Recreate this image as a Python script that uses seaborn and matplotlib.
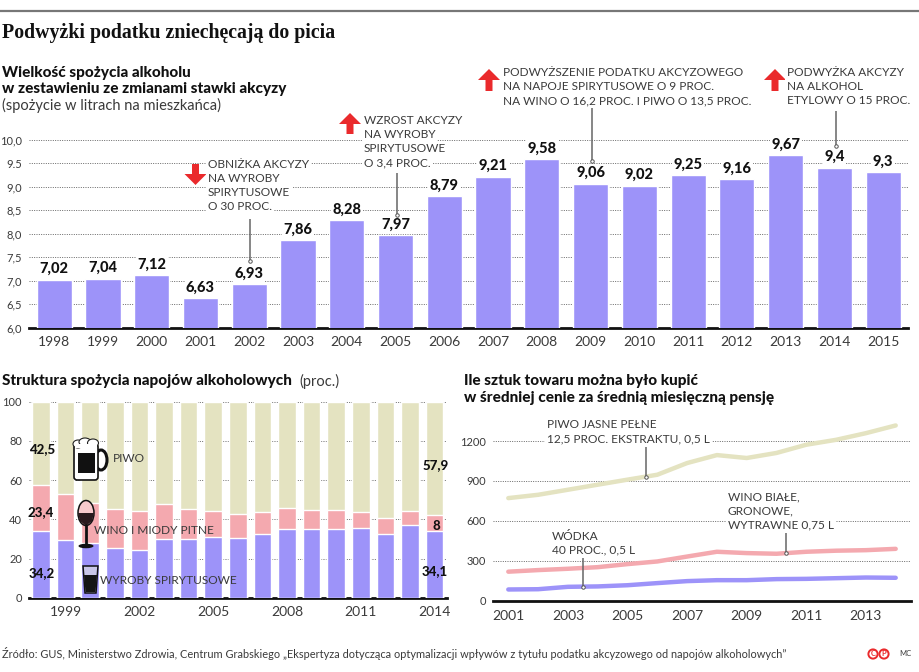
import matplotlib
matplotlib.use("Agg")
import matplotlib.pyplot as plt
from matplotlib.patches import Polygon, Rectangle, Ellipse, FancyBboxPatch, Circle
import pandas as pd
import seaborn as sns

W, H = 920, 672

# spozycie w litrach
years_top = [1998, 1999, 2000, 2001, 2002, 2003, 2004, 2005, 2006, 2007, 2008, 2009, 2010, 2011, 2012, 2013, 2014, 2015]
litres = [7.02, 7.04, 7.12, 6.63, 6.93, 7.86, 8.28, 7.97, 8.79, 9.21, 9.58, 9.06, 9.02, 9.25, 9.16, 9.67, 9.4, 9.3]
litres_labels = ["7,02", "7,04", "7,12", "6,63", "6,93", "7,86", "8,28", "7,97", "8,79", "9,21", "9,58", "9,06", "9,02", "9,25", "9,16", "9,67", "9,4", "9,3"]

# struktura spozycia
years_mix = list(range(1998, 2015))
spirits = [34.2, 29.4, 28.2, 25.7, 24.4, 30.2, 30.0, 31.2, 30.6, 32.4, 35.3, 35.3, 35.3, 35.5, 32.7, 37.2, 34.1]
wine = [23.4, 23.5, 20.1, 19.4, 19.8, 17.6, 15.5, 13.1, 12.4, 11.6, 10.4, 9.4, 9.5, 8.5, 7.8, 7.2, 8.0]
beer = [42.5, 47.1, 51.7, 54.9, 55.8, 52.2, 54.5, 55.7, 57.0, 56.0, 54.3, 55.3, 55.2, 56.0, 59.5, 55.6, 57.9]
mix_ticks = [1999, 2002, 2005, 2008, 2011, 2014]

# ile sztuk za pensje
years_line = list(range(2001, 2015))
beer_units = [771, 796, 834, 872, 910, 947, 1035, 1095, 1073, 1111, 1173, 1210, 1260, 1318]
wine_units = [217, 229, 239, 251, 274, 294, 331, 367, 357, 352, 367, 375, 379, 389]
vodka_units = [83, 85, 103, 106, 115, 131, 146, 153, 153, 161, 163, 168, 173, 171]

PURPLE = "#9d93f9"
KHAKI = "#e4e3c1"
PINK = "#f4a9af"
RED = "#ea2a2c"
TEXT = "#3a3a3a"
DOTS = (0, (1, 1.4))

sns.set_theme(style="white")
plt.rcParams["font.family"] = ["Lato", "DejaVu Sans"]


def px_axes(fig, left, top, right, bottom):
    return fig.add_axes([left / W, 1 - bottom / H, (right - left) / W, (bottom - top) / H])


def style_axis(ax, ticks, labels):
    sns.despine(ax=ax, left=True, top=True, right=True)
    ax.spines["bottom"].set_color("#111111")
    ax.spines["bottom"].set_linewidth(2.0)
    ax.spines["bottom"].set_zorder(0.5)
    ax.set_yticks(ticks)
    ax.set_yticklabels(labels)
    ax.yaxis.grid(True, color="#666666", lw=0.7, ls=DOTS)
    ax.xaxis.grid(False)
    ax.set_axisbelow(True)
    ax.set_xlabel("")
    ax.set_ylabel("")
    ax.tick_params(axis="y", length=0, labelsize=8, labelcolor=TEXT, pad=5)
    ax.tick_params(axis="x", length=0, labelsize=10, labelcolor=TEXT, pad=6)


def arrow(ax, cx, top, bottom, up=True):
    head = 11
    hw, sw = 11, 3.5
    if up:
        pts = [(cx, top), (cx + hw, top + head), (cx + sw, top + head), (cx + sw, bottom), (cx - sw, bottom), (cx - sw, top + head), (cx - hw, top + head)]
    else:
        pts = [(cx, bottom), (cx + hw, bottom - head), (cx + sw, bottom - head), (cx + sw, top), (cx - sw, top), (cx - sw, bottom - head), (cx - hw, bottom - head)]
    ax.add_patch(Polygon(pts, closed=True, fc=RED, ec="none"))


def note(ax, x, y, lines, step=14):
    for i, line in enumerate(lines):
        ax.text(x, y + i * step, line, fontsize=8.6, color=TEXT, va="center", ha="left",
                bbox=dict(fc="white", ec="none", pad=1.2))


def leader(ax, x, y0, y1):
    ax.plot([x, x], [y0, y1], color="#666666", lw=1.1, solid_capstyle="butt")
    ax.plot([x], [y1], marker="o", ms=2.5, mfc="white", mec="#555555", mew=0.7)


def draw_mug(ax):
    ax.add_patch(Ellipse((101, 460), 12, 20, fc="none", ec="#111111", lw=2.2))
    ax.add_patch(FancyBboxPatch((74, 444), 24, 36, boxstyle="round,pad=0,rounding_size=3", fc="white", ec="#111111", lw=1.2))
    ax.add_patch(Rectangle((78, 453), 17, 20, fc="#111111", ec="none"))
    for cx, cy, w in [(78, 444, 10), (85, 442, 12), (93, 443, 11)]:
        ax.add_patch(Ellipse((cx, cy), w, 8, fc="white", ec="#222222", lw=0.8))
    ax.add_patch(Rectangle((75, 444), 22, 4, fc="white", ec="none"))


def draw_glass(ax):
    ax.add_patch(Ellipse((86, 513), 16, 25, fc="#f7c9cc", ec="#111111", lw=1.1))
    ax.add_patch(Polygon([(78, 513), (94, 513), (92, 521), (86, 526), (80, 521)], closed=True, fc="#2a1a1e", ec="none"))
    ax.plot([86, 86], [525, 545], color="#111111", lw=2)
    ax.add_patch(Ellipse((86, 546), 15, 4.5, fc="#111111", ec="none"))


def draw_shot(ax):
    ax.add_patch(Polygon([(83, 566), (98, 566), (96, 593), (85, 593)], closed=True, fc="#c9c6e8", ec="#111111", lw=1.1))
    ax.add_patch(Polygon([(84, 575), (97, 575), (95.5, 592), (85.5, 592)], closed=True, fc="#151515", ec="none"))


fig = plt.figure(figsize=(W / 100, H / 100), dpi=100, facecolor="white")

# gorny wykres slupkowy
x0, step = 54.2, 48.76
ax_top = px_axes(fig, 29, 120, 908, 327.5)
df_top = pd.DataFrame({"year": years_top, "litres": litres})
sns.barplot(data=df_top, x="year", y="litres", color=PURPLE, saturation=1, width=0.72, ax=ax_top)
ax_top.set_xlim((29 - x0) / step, (908 - x0) / step)
ax_top.set_ylim(6, 6 + (327.5 - 120) / 47)
style_axis(ax_top, [6, 6.5, 7, 7.5, 8, 8.5, 9, 9.5, 10], ["6,0", "6,5", "7,0", "7,5", "8,0", "8,5", "9,0", "9.5", "10,0"])
ax_top.bar_label(ax_top.containers[0], labels=litres_labels, padding=2.5, fontsize=10.5, fontweight="black",
                 color="#111111", bbox=dict(fc="white", ec="none", pad=1))

# struktura - slupki skumulowane
x0, step = 41, 24.6
ax_mix = px_axes(fig, 29, 401.7, 447, 598)
wine_top = [s + w for s, w in zip(spirits, wine)]
totals = [t + b for t, b in zip(wine_top, beer)]
df_mix = pd.DataFrame({"year": years_mix, "spirits": spirits, "wine_top": wine_top, "total": totals})
sns.barplot(data=df_mix, x="year", y="total", color=KHAKI, saturation=1, width=0.72, ax=ax_mix)
sns.barplot(data=df_mix, x="year", y="wine_top", color=PINK, saturation=1, width=0.72, ax=ax_mix)
sns.barplot(data=df_mix, x="year", y="spirits", color=PURPLE, saturation=1, width=0.72, ax=ax_mix)
ax_mix.set_xlim((29 - x0) / step, (447 - x0) / step)
ax_mix.set_ylim(0, 100)
style_axis(ax_mix, [0, 20, 40, 60, 80, 100], ["0", "20", "40", "60", "80", "100"])
ax_mix.set_xticks([years_mix.index(y) for y in mix_ticks])
ax_mix.set_xticklabels([str(y) for y in mix_ticks])
for bar_set in ax_mix.containers:
    for bar in bar_set:
        bar.set_zorder(2)

# linie
ax_line = px_axes(fig, 493, 405, 911, 600.5)
x0, step = 508.3, 29.8
df_line = pd.DataFrame({"year": years_line, "beer": beer_units, "wine": wine_units, "vodka": vodka_units})
for col, colour in [("beer", KHAKI), ("wine", PINK), ("vodka", PURPLE)]:
    sns.lineplot(data=df_line, x="year", y=col, color=colour, lw=3.2, ax=ax_line, zorder=3)
ax_line.set_xlim(2001 + (493 - x0) / step, 2001 + (911 - x0) / step)
ax_line.set_ylim(0, (600.5 - 405) / 0.1328)
style_axis(ax_line, [0, 300, 600, 900, 1200], ["0", "300", "600", "900", "1200"])
ax_line.set_xticks(years_line)
ax_line.set_xticklabels([str(y) if y % 2 else "" for y in years_line])
ax_line.tick_params(axis="x", length=3, width=0.8, color="#111111", direction="out", pad=4)

# warstwa na opisy, w pikselach
ov = fig.add_axes([0, 0, 1, 1], zorder=10)
ov.set_xlim(0, W)
ov.set_ylim(H, 0)
ov.axis("off")
ov.patch.set_alpha(0)

ov.plot([0, W], [11, 11], color="#777777", lw=1.6)
ov.text(2, 33, "Podwyżki podatku zniechęcają do picia", family="Liberation Serif", fontweight="bold",
        fontsize=14.3, color="#111111", va="center")
ov.text(2, 73, "Wielkość spożycia alkoholu", fontsize=11, fontweight="black", color="#111111", va="center")
ov.text(2, 89, "w zestawieniu ze zmianami stawki akcyzy", fontsize=11, fontweight="black", color="#111111", va="center")
ov.text(2, 105, "(spożycie w litrach na mieszkańca)", fontsize=10.5, color=TEXT, va="center")
ov.text(2, 381, "Struktura spożycia napojów alkoholowych", fontsize=11, fontweight="black", color="#111111", va="center")
ov.text(299, 381, "(proc.)", fontsize=10.5, color=TEXT, va="center")
ov.text(464, 381, "Ile sztuk towaru można było kupić", fontsize=11, fontweight="black", color="#111111", va="center")
ov.text(464, 398, "w średniej cenie za średnią miesięczną pensję", fontsize=11, fontweight="black", color="#111111", va="center")

leader(ov, 250, 219, 261)
leader(ov, 397, 173, 215)
leader(ov, 592, 108, 161)
leader(ov, 836, 111, 146)
note(ov, 208, 164, ["OBNIŻKA AKCYZY", "NA WYROBY", "SPIRYTUSOWE", "O 30 PROC."])
note(ov, 364, 121, ["WZROST AKCYZY", "NA WYROBY", "SPIRYTUSOWE", "O 3,4 PROC."])
note(ov, 503, 73, ["PODWYŻSZENIE PODATKU AKCYZOWEGO", "NA NAPOJE SPIRYTUSOWE O 9 PROC.", "NA WINO O 16,2 PROC. I PIWO O 13,5 PROC."])
note(ov, 787, 73, ["PODWYŻKA AKCYZY", "NA ALKOHOL", "ETYLOWY O 15 PROC."])
arrow(ov, 195.5, 164, 185, up=False)
arrow(ov, 350, 113, 134)
arrow(ov, 489, 69, 91)
arrow(ov, 775, 69, 91)

leader(ov, 646, 447, 477)
leader(ov, 786, 533, 553)
leader(ov, 583, 558, 587)
note(ov, 547, 425, ["PIWO JASNE PEŁNE", "12,5 PROC. EKSTRAKTU, 0,5 L"])
note(ov, 728, 497, ["WINO BIAŁE,", "GRONOWE,", "WYTRAWNE 0,75 L"])
note(ov, 552, 536, ["WÓDKA", "40 PROC., 0,5 L"])

# podpisy wartosci na slupkach skumulowanych
fmt = lambda v: f"{v:g}".replace(".", ",")
for x, y, v in [(42, 449, beer[0]), (41, 512, wine[0]), (42, 573, spirits[0]), (436, 465, beer[-1]), (436, 526, wine[-1]), (435, 571, spirits[-1])]:
    ov.text(x, y, fmt(v), fontsize=9.5, fontweight="black", color="#111111", ha="center", va="center")

draw_mug(ov)
draw_glass(ov)
draw_shot(ov)
ov.text(113, 458, "PIWO", fontsize=8.6, color=TEXT, va="center")
ov.text(94, 531, "WINO I MIODY PITNE", fontsize=8.6, color=TEXT, va="center")
ov.text(100, 580, "WYROBY SPIRYTUSOWE", fontsize=8.6, color=TEXT, va="center")

ov.text(2, 654, "Źródło: GUS, Ministerstwo Zdrowia, Centrum Grabskiego „Ekspertyza dotycząca optymalizacji wpływów z tytułu podatku akcyzowego od napojów alkoholowych”",
        fontsize=7.95, color=TEXT, va="center")
for cx, letter in [(873, "C"), (884, "P")]:
    ov.add_patch(Circle((cx, 654), 4.6, fc="white", ec=RED, lw=1.4))
    ov.text(cx, 654, letter, fontsize=5.5, fontweight="bold", color=RED, ha="center", va="center")
ov.text(905, 654, "MC", fontsize=5.5, color=TEXT, ha="center", va="center")

fig.savefig("out.png", dpi=100)
